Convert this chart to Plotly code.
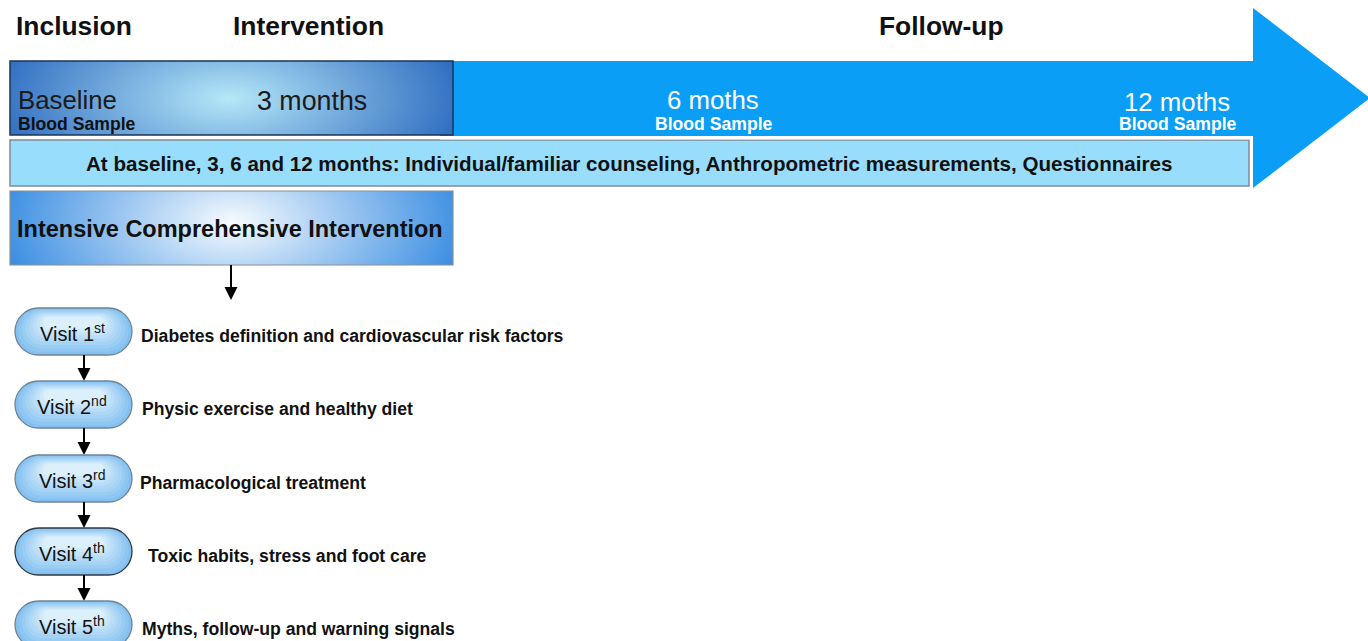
import numpy as np
import plotly.graph_objects as go

W, H = 1368, 641

# ---- text content ----
phase_labels = ["Inclusion", "Intervention", "Follow-up"]
phase_x = [14, 308, 941]
timepoints = ["Baseline", "3 months", "6 moths", "12 moths"]
sample_label = "Blood Sample"
counsel_text = ("At baseline, 3, 6 and 12 months: Individual/familiar counseling, "
                "Anthropometric measurements, Questionnaires")
intervention_title = "Intensive Comprehensive Intervention"
visit_ordinals = ["1", "2", "3", "4", "5"]
visit_suffix = ["st", "nd", "rd", "th", "th"]
visit_topics = ["Diabetes definition and cardiovascular risk factors",
                "Physic exercise and healthy diet",
                "Pharmacological treatment",
                "Toxic habits, stress and foot care",
                "Myths, follow-up and warning signals"]
visit_top = [308, 381, 455, 528, 601]
topic_x = [139, 140, 138, 146, 140]

FONT = "Liberation Sans, Arial, Helvetica, sans-serif"

fig = go.Figure()
shapes = []
annots = []


def grad_heatmap(x0, x1, y0, y1, cx, cy, rx, ry, c_in, c_out, n=160, m=40):
    xe = np.linspace(x0, x1, n + 1)
    ye = np.linspace(y0, y1, m + 1)
    xc = (xe[:-1] + xe[1:]) / 2
    yc = (ye[:-1] + ye[1:]) / 2
    X, Y = np.meshgrid(xc, yc)
    d = np.sqrt(((X - cx) / rx) ** 2 + ((Y - cy) / ry) ** 2)
    d = np.clip(d, 0, 1)
    fig.add_trace(go.Heatmap(x=xe, y=ye, z=d, zmin=0, zmax=1,
                             colorscale=[[0, c_in], [1, c_out]],
                             showscale=False, hoverinfo="skip", zsmooth="best"))


# ---- big arrow ----
shapes.append(dict(type="path",
                   path="M 440,61 L 1253,61 L 1253,8 L 1370,98 L 1253,188 L 1253,136 L 440,136 Z",
                   fillcolor="#0A9EF6", line=dict(width=0), layer="below"))

# ---- light counseling bar ----
shapes.append(dict(type="rect", x0=10, x1=1249, y0=140, y1=186,
                   fillcolor="#98DDFB", line=dict(color="#7E8C96", width=1.5)))
shapes.append(dict(type="line", x0=440, x1=1253, y0=138, y1=138,
                   line=dict(color="white", width=3)))

# ---- gradient boxes ----
grad_heatmap(10, 453, 61, 135, 228, 98, 245, 110, "#B6E8F8", "#2B69BF")
shapes.append(dict(type="rect", x0=10, x1=453, y0=61, y1=135,
                   fillcolor="rgba(0,0,0,0)", line=dict(color="#1B3556", width=1.5)))
grad_heatmap(10, 453, 191, 265, 232, 222, 235, 130, "#F6FBFE", "#3A8DE2")
shapes.append(dict(type="rect", x0=10, x1=453, y0=191, y1=265,
                   fillcolor="rgba(0,0,0,0)", line=dict(color="#8A8F94", width=1.2)))


def pill_path(x0, x1, y0, y1):
    r = (y1 - y0) / 2
    k = 0.5523 * r
    cyy = (y0 + y1) / 2
    a = x0 + r
    b = x1 - r
    return (f"M {a},{y0} L {b},{y0} "
            f"C {b + k},{y0} {x1},{cyy - k} {x1},{cyy} "
            f"C {x1},{cyy + k} {b + k},{y1} {b},{y1} "
            f"L {a},{y1} "
            f"C {a - k},{y1} {x0},{cyy + k} {x0},{cyy} "
            f"C {x0},{cyy - k} {a - k},{y0} {a},{y0} Z")


def lerp_color(c1, c2, t):
    c1 = [int(c1[i:i + 2], 16) for i in (1, 3, 5)]
    c2 = [int(c2[i:i + 2], 16) for i in (1, 3, 5)]
    return "rgb(%d,%d,%d)" % tuple(round(a + (b - a) * t) for a, b in zip(c1, c2))


def down_arrow(x, y0, y1):
    shapes.append(dict(type="line", x0=x, x1=x, y0=y0, y1=y1 - 10,
                       line=dict(color="black", width=2)))
    shapes.append(dict(type="path",
                       path=f"M {x - 6.5},{y1 - 13} L {x + 6.5},{y1 - 13} L {x},{y1} Z",
                       fillcolor="black", line=dict(width=0)))


# ---- visit pills ----
PH = 47
for i, top in enumerate(visit_top):
    x0, x1, y0, y1 = 15, 132, top, top + PH
    layers = 9
    for j in range(layers):
        t = j / (layers - 1)
        s = j * 2.2
        shapes.append(dict(type="path",
                           path=pill_path(x0 + s * 1.6, x1 - s * 1.6, y0 + s * 0.5, y1 - s * 1.5),
                           fillcolor=lerp_color("#84C1F0", "#DCF0FC", t),
                           line=dict(width=0)))
    bc = "#2F3A44" if i == 3 else "#6F8496"
    shapes.append(dict(type="path", path=pill_path(x0, x1, y0, y1),
                       fillcolor="rgba(0,0,0,0)", line=dict(color=bc, width=1.3)))
    annots.append(dict(x=72, y=top + 24, xanchor="center", yanchor="middle",
                       text=f"Visit {visit_ordinals[i]}<sup>{visit_suffix[i]}</sup>",
                       font=dict(size=20, color="#111")))
    annots.append(dict(x=topic_x[i], y=top + 28, xanchor="left", yanchor="middle",
                       text=f"<b>{visit_topics[i]}</b>",
                       font=dict(size=17.6, color="#111")))
    if i < len(visit_top) - 1:
        down_arrow(84, y1, visit_top[i + 1])

down_arrow(231, 265, 300)

# ---- phase headers ----
for lab, x in zip(phase_labels, phase_x):
    annots.append(dict(x=x, y=26, xanchor="left" if lab == "Inclusion" else "center",
                       yanchor="middle", text=f"<b>{lab}</b>",
                       font=dict(size=26.4, color="#111")))

# ---- timepoint labels ----
annots.append(dict(x=16, y=100, xanchor="left", yanchor="middle", text=timepoints[0],
                   font=dict(size=25.8, color="#1A1A1A")))
annots.append(dict(x=16, y=124, xanchor="left", yanchor="middle", text=f"<b>{sample_label}</b>",
                   font=dict(size=17.6, color="#111")))
annots.append(dict(x=312, y=101, xanchor="center", yanchor="middle", text=timepoints[1],
                   font=dict(size=26.8, color="#1A1A1A")))
annots.append(dict(x=713, y=100, xanchor="center", yanchor="middle", text=timepoints[2],
                   font=dict(size=25.8, color="white")))
annots.append(dict(x=714, y=124, xanchor="center", yanchor="middle", text=f"<b>{sample_label}</b>",
                   font=dict(size=17.6, color="white")))
annots.append(dict(x=1177, y=102, xanchor="center", yanchor="middle", text=timepoints[3],
                   font=dict(size=25.8, color="white")))
annots.append(dict(x=1178, y=124, xanchor="center", yanchor="middle", text=f"<b>{sample_label}</b>",
                   font=dict(size=17.6, color="white")))

annots.append(dict(x=629, y=163, xanchor="center", yanchor="middle", text=f"<b>{counsel_text}</b>",
                   font=dict(size=20.6, color="#111")))
annots.append(dict(x=230, y=229, xanchor="center", yanchor="middle", text=f"<b>{intervention_title}</b>",
                   font=dict(size=23.5, color="#111")))

for a in annots:
    a.update(xref="x", yref="y", showarrow=False)

fig.update_layout(
    width=W, height=H, margin=dict(l=0, r=0, t=0, b=0),
    paper_bgcolor="white", plot_bgcolor="white",
    font=dict(family=FONT),
    xaxis=dict(range=[0, W], visible=False, fixedrange=True),
    yaxis=dict(range=[H, 0], visible=False, fixedrange=True),
    shapes=shapes, annotations=annots, showlegend=False,
)

fig.write_html("out.html", config={"displayModeBar": False},
               post_script="document.body.style.margin='0';document.body.style.overflow='hidden';")
